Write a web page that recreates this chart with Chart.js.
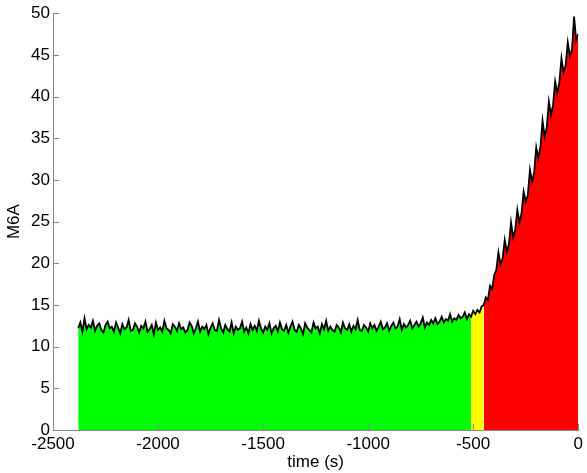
<!DOCTYPE html>
<html>
<head>
<meta charset="utf-8">
<script src="https://cdn.jsdelivr.net/npm/chart.js@4/dist/chart.umd.min.js"></script>
<style>
  html, body { margin: 0; padding: 0; background: #fff; }
  #wrap { width: 587px; height: 473px; }
</style>
</head>
<body>
<div id="wrap"><canvas id="chart"></canvas></div>
<script>
// sampled signal: one reading every 10 s starting at -2380 s
const tStart = -2380;
const tStep = 10;
const m6a = [
  12.2, 12.9, 11.8, 13.4, 12.1, 12.6, 12.3, 13.1, 11.9, 12.5,
  12.8, 12.0, 11.7, 12.6, 13.0, 12.2, 12.4, 11.8, 12.9, 12.3,
  11.6, 12.7, 12.1, 12.3, 13.2, 11.9, 12.0, 12.8, 12.4, 11.7,
  12.5, 12.2, 13.0, 11.8, 12.1, 12.6, 11.5, 12.9, 12.0, 12.3,
  11.8, 13.1, 12.2, 12.0, 11.6, 12.7, 12.4, 11.9, 12.8, 12.1,
  12.3, 11.7, 12.0, 12.9, 12.5, 11.6, 12.2, 13.0, 11.8, 12.4,
  12.1, 12.6, 11.5, 12.3, 12.8, 12.0, 11.9, 13.2, 12.2, 11.7,
  12.6, 12.1, 11.8, 12.9, 11.6, 12.4, 12.0, 12.2, 13.0, 11.8,
  12.3, 11.6, 12.7, 12.0, 12.5, 11.9, 13.1, 12.2, 11.7, 12.4,
  12.0, 12.8, 11.6, 12.2, 12.5, 11.8, 12.9, 12.1, 11.9, 12.6,
  11.7, 12.4, 13.0, 12.0, 11.8, 12.6, 12.2, 11.5, 12.8, 12.3,
  12.0, 11.7, 12.9, 12.2, 12.4, 11.6, 12.7, 12.1, 13.1, 11.9,
  12.4, 12.0, 11.8, 12.6, 12.3, 11.7, 12.9, 12.2, 12.0, 12.7,
  11.8, 12.5, 12.1, 13.2, 12.0, 11.9, 12.6, 12.3, 11.8, 12.8,
  12.2, 12.6, 11.9, 12.4, 13.0, 12.1, 12.3, 12.8, 11.9, 12.5,
  12.9, 12.2, 12.4, 13.3, 12.0, 12.7, 12.3, 12.6, 13.1, 12.2,
  12.6, 13.0, 12.4, 12.8, 13.5, 12.3, 12.9, 12.6, 13.2, 12.8,
  13.4, 12.7, 13.0, 13.6, 12.9, 13.3, 13.1, 13.9, 13.0, 13.4,
  13.2, 13.8, 13.4, 13.6, 14.1, 13.3, 13.9, 13.6, 14.3, 13.9,
  14.4, 14.1, 14.8, 15.0, 15.9, 15.6, 17.3, 16.9, 18.6, 19.2,
  21.3, 19.9, 20.6, 22.8, 21.4, 22.3, 24.9, 23.1, 24.0, 26.4,
  24.9, 26.0, 28.6, 27.4, 28.2, 31.2, 29.8, 30.9, 33.9, 32.6,
  34.0, 37.1, 35.2, 36.3, 39.4, 37.8, 39.0, 41.8, 40.4, 41.7,
  44.6, 42.9, 43.8, 46.5, 44.9, 45.6, 49.6, 46.8, 47.5
];

// phases shaded under the curve
const zoneFrom = [-2380, -510, -450];
const zoneTo = [-510, -450, 0];
const zoneColors = ['#00ff00', '#ffff00', '#ff0000'];

const xTicks = [-2500, -2000, -1500, -1000, -500, 0];
const yTicks = [0, 5, 10, 15, 20, 25, 30, 35, 40, 45, 50];

const points = m6a.map((v, i) => ({ x: tStart + i * tStep, y: v }));

const axisGray = '#888';
const font = { family: 'Liberation Sans, Arial, sans-serif', size: 17 };

const zoneSets = zoneFrom.map((from, i) => ({
  data: points.filter(p => p.x >= from && p.x <= zoneTo[i]),
  borderWidth: 0,
  pointRadius: 0,
  backgroundColor: zoneColors[i],
  fill: 'origin'
}));

const inwardTicks = {
  id: 'inwardTicks',
  afterDatasetsDraw(chart) {
    const { ctx, chartArea: a, scales: { x, y } } = chart;
    ctx.save();
    ctx.strokeStyle = axisGray;
    ctx.lineWidth = 1;
    ctx.beginPath();
    x.ticks.forEach(t => {
      const px = Math.round(x.getPixelForValue(t.value)) + 0.5;
      ctx.moveTo(px, a.bottom);
      ctx.lineTo(px, a.bottom - 6);
    });
    y.ticks.forEach(t => {
      const py = Math.round(y.getPixelForValue(t.value)) + 0.5;
      ctx.moveTo(a.left, py);
      ctx.lineTo(a.left + 6, py);
    });
    ctx.stroke();
    ctx.restore();
  }
};

new Chart(document.getElementById('chart'), {
  type: 'line',
  data: {
    datasets: [
      { data: points, borderColor: '#000', borderWidth: 1.8, pointRadius: 0, fill: false, tension: 0 },
      ...zoneSets
    ]
  },
  options: {
    responsive: true,
    maintainAspectRatio: false,
    animation: false,
    layout: { padding: { top: 12, right: 3, left: 0, bottom: 0 } },
    plugins: { legend: { display: false }, tooltip: { enabled: false } },
    scales: {
      x: {
        type: 'linear',
        min: -2500, max: 0,
        afterBuildTicks: s => { s.ticks = xTicks.map(v => ({ value: v })); },
        afterFit: s => { s.height = 43; },
        grid: { drawOnChartArea: false, drawTicks: false },
        border: { color: axisGray },
        ticks: { color: '#000', font, padding: 4, maxRotation: 0, callback: v => String(v) },
        title: { display: true, text: 'time (s)', color: '#000', font, padding: { top: 0, bottom: 0 } }
      },
      y: {
        min: 0, max: 50,
        afterBuildTicks: s => { s.ticks = yTicks.map(v => ({ value: v })); },
        afterFit: s => { s.width = 53; },
        grid: { drawOnChartArea: false, drawTicks: false },
        border: { color: axisGray },
        ticks: { color: '#000', font, padding: 3, callback: v => String(v) },
        title: { display: true, text: 'M6A', color: '#000', font, padding: { top: 4, bottom: 0 } }
      }
    }
  },
  plugins: [inwardTicks]
});
</script>
</body>
</html>
